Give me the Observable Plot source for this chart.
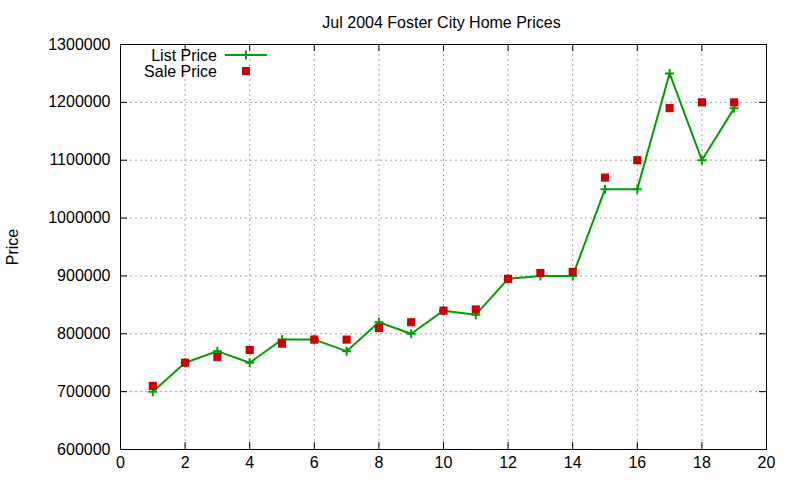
<!DOCTYPE html>
<html><head><meta charset="utf-8">
<script src="https://cdn.jsdelivr.net/npm/d3@7"></script>
<script src="https://cdn.jsdelivr.net/npm/@observablehq/plot@0.6"></script>
<style>
body{margin:0;background:#fff;}
#chart{position:relative;width:800px;height:480px;}
svg{font-family:"Liberation Sans",Arial,sans-serif;}
</style>
</head><body><div id="chart"></div>
<script>
const houses = [1,2,3,4,5,6,7,8,9,10,11,12,13,14,15,16,17,18,19];
const listPrice = [700000,750000,770000,750000,790000,790000,770000,820000,800000,840000,833000,895000,900000,900000,1050000,1050000,1250000,1100000,1190000];
const salePrice = [710000,750000,760000,772000,783000,790000,790000,810000,820000,840000,842000,895000,905000,907000,1070000,1100000,1190000,1200000,1200000];
const xTicks = [0,2,4,6,8,10,12,14,16,18,20];
const yTicks = [600000,700000,800000,900000,1000000,1100000,1200000,1300000];
const title = "Jul 2004 Foster City Home Prices";
const yLabel = "Price";
const seriesNames = ["List Price","Sale Price"];
const green = "#00a000", red = "#cc0000";

const listData = houses.map((h,i)=>({x:h,y:listPrice[i]}));
const saleData = houses.map((h,i)=>({x:h,y:salePrice[i]}));

const plusSymbol = {draw(ctx, size){ const r = 4.5; ctx.moveTo(-r,0); ctx.lineTo(r,0); ctx.moveTo(0,-r); ctx.lineTo(0,r); }};

const W=800,H=480, mL=120, mR=34, mT=44, mB=31;
const innerH = H-mT-mB, innerW = W-mL-mR;
const FS = 16;

const plot = Plot.plot({
  width:W, height:H,
  marginLeft:mL, marginRight:mR, marginTop:mT, marginBottom:mB,
  style:{fontSize:FS+"px", fontFamily:"'Liberation Sans', Arial, sans-serif", color:"#000", background:"#fff"},
  x:{domain:[0,20]},
  y:{domain:[600000,1300000]},
  marks:[
    Plot.ruleX(xTicks,{stroke:"#a0a0a0", strokeDasharray:"2,3", strokeWidth:1, strokeOpacity:1}),
    Plot.ruleY(yTicks,{stroke:"#a0a0a0", strokeDasharray:"2,3", strokeWidth:1, strokeOpacity:1}),
    Plot.tickX(xTicks,{x:d=>d, insetTop:innerH-7, stroke:"#000", strokeWidth:1}),
    Plot.tickX(xTicks,{x:d=>d, insetBottom:innerH-7, stroke:"#000", strokeWidth:1}),
    Plot.tickY(yTicks,{y:d=>d, insetRight:innerW-7, stroke:"#000", strokeWidth:1}),
    Plot.tickY(yTicks,{y:d=>d, insetLeft:innerW-7, stroke:"#000", strokeWidth:1}),
    Plot.axisX(xTicks,{tickSize:0, tickPadding:7, label:null, fill:"#000", fontSize:FS}),
    Plot.axisY(yTicks,{tickSize:0, tickPadding:10, label:null, fill:"#000", fontSize:FS, tickFormat:d=>String(d)}),
    Plot.frame({stroke:"#000", strokeWidth:1}),
    Plot.line(listData,{x:"x", y:"y", stroke:green, strokeWidth:2}),
    Plot.dot(listData,{x:"x", y:"y", symbol:plusSymbol, stroke:green, strokeWidth:2, fill:"none", r:4}),
    Plot.dot(saleData,{x:"x", y:"y", symbol:"square", fill:red, stroke:"none", r:4.6}),
    Plot.text([title],{frameAnchor:"top", dy:-28, dx:-2, fontSize:FS, fill:"#000"}),
    Plot.text([yLabel],{frameAnchor:"left", dx:-108, rotate:-90, textAnchor:"middle", fontSize:FS, fill:"#000"})
  ]
});
document.getElementById("chart").appendChild(plot);

// legend inside plot area top-left
const svg = d3.select(plot);
const lg = svg.append("g").attr("font-family","'Liberation Sans', Arial, sans-serif").attr("font-size",FS);
lg.append("text").attr("x",217).attr("y",55).attr("dy","0.35em").attr("text-anchor","end").attr("fill","#000").text(seriesNames[0]);
lg.append("line").attr("x1",225).attr("x2",267).attr("y1",55).attr("y2",55).attr("stroke",green).attr("stroke-width",2);
lg.append("path").attr("d","M241.5,55H250.5M246,50.5V59.5").attr("stroke",green).attr("stroke-width",2);
lg.append("text").attr("x",217).attr("y",71).attr("dy","0.35em").attr("text-anchor","end").attr("fill","#000").text(seriesNames[1]);
lg.append("rect").attr("x",242).attr("y",67).attr("width",8).attr("height",8).attr("fill",red);
</script>
</body></html>
